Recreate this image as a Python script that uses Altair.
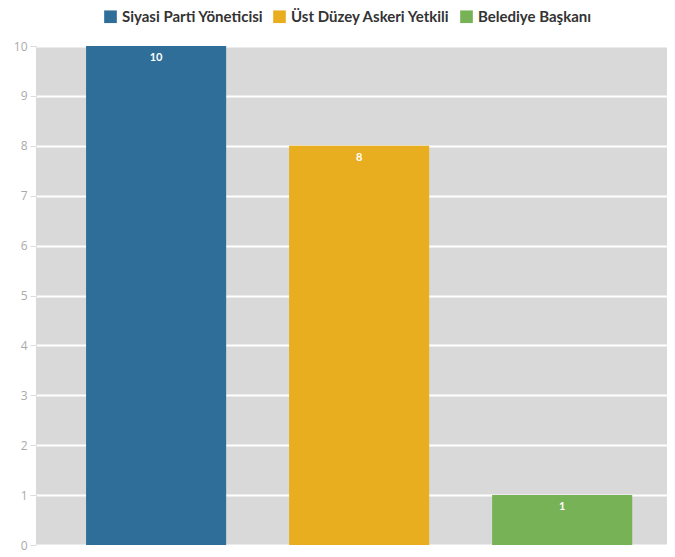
import altair as alt
import pandas as pd

categories = ["Siyasi Parti Yöneticisi", "Üst Düzey Askeri Yetkili", "Belediye Başkanı"]
values = [10, 8, 1]
colors = ["#2e6e98", "#e9ae1f", "#78b256"]

df = pd.DataFrame({"cat": categories, "val": values})

x = alt.X("cat:N", sort=categories, axis=None,
          scale=alt.Scale(paddingInner=0.31, paddingOuter=0.209, align=0.59))
y = alt.Y("val:Q", scale=alt.Scale(domain=[0, 10], nice=False),
          axis=alt.Axis(title=None, values=list(range(11)), grid=True, gridColor="white",
                        gridWidth=2, domain=False, tickColor="#dcdcdc", tickSize=6,
                        labelColor="#aaaaaa", labelFontSize=12, labelPadding=3,
                        labelFont="Open Sans"))

bars = alt.Chart(df).mark_bar().encode(
    x=x, y=y,
    color=alt.Color("cat:N", sort=categories,
                    scale=alt.Scale(domain=categories, range=colors),
                    legend=alt.Legend(title=None, orient="none", direction="horizontal",
                                      legendX=67, legendY=-37, symbolType="square",
                                      symbolSize=160, symbolStrokeWidth=0, symbolOpacity=1,
                                      labelFontSize=15, labelFont="Lato", labelFontWeight="bold",
                                      labelColor="#333333", columnPadding=8, symbolOffset=0,
                                      labelOffset=4, labelLimit=400)),
)

labels = alt.Chart(df).mark_text(color="white", fontWeight="bold", fontSize=11, dy=12,
                                 baseline="middle", font="Lato").encode(
    x=alt.X("cat:N", sort=categories), y="val:Q", text="val:Q")

chart = (bars + labels).properties(
    width=631, height=499,
    autosize=alt.AutoSizeParams(type="none"),
    padding={"left": 28, "top": 38, "right": 0, "bottom": 8},
).configure_view(fill="#d9d9d9", stroke=None)

chart.save("out.html", embed_options={"renderer": "svg", "actions": False})
